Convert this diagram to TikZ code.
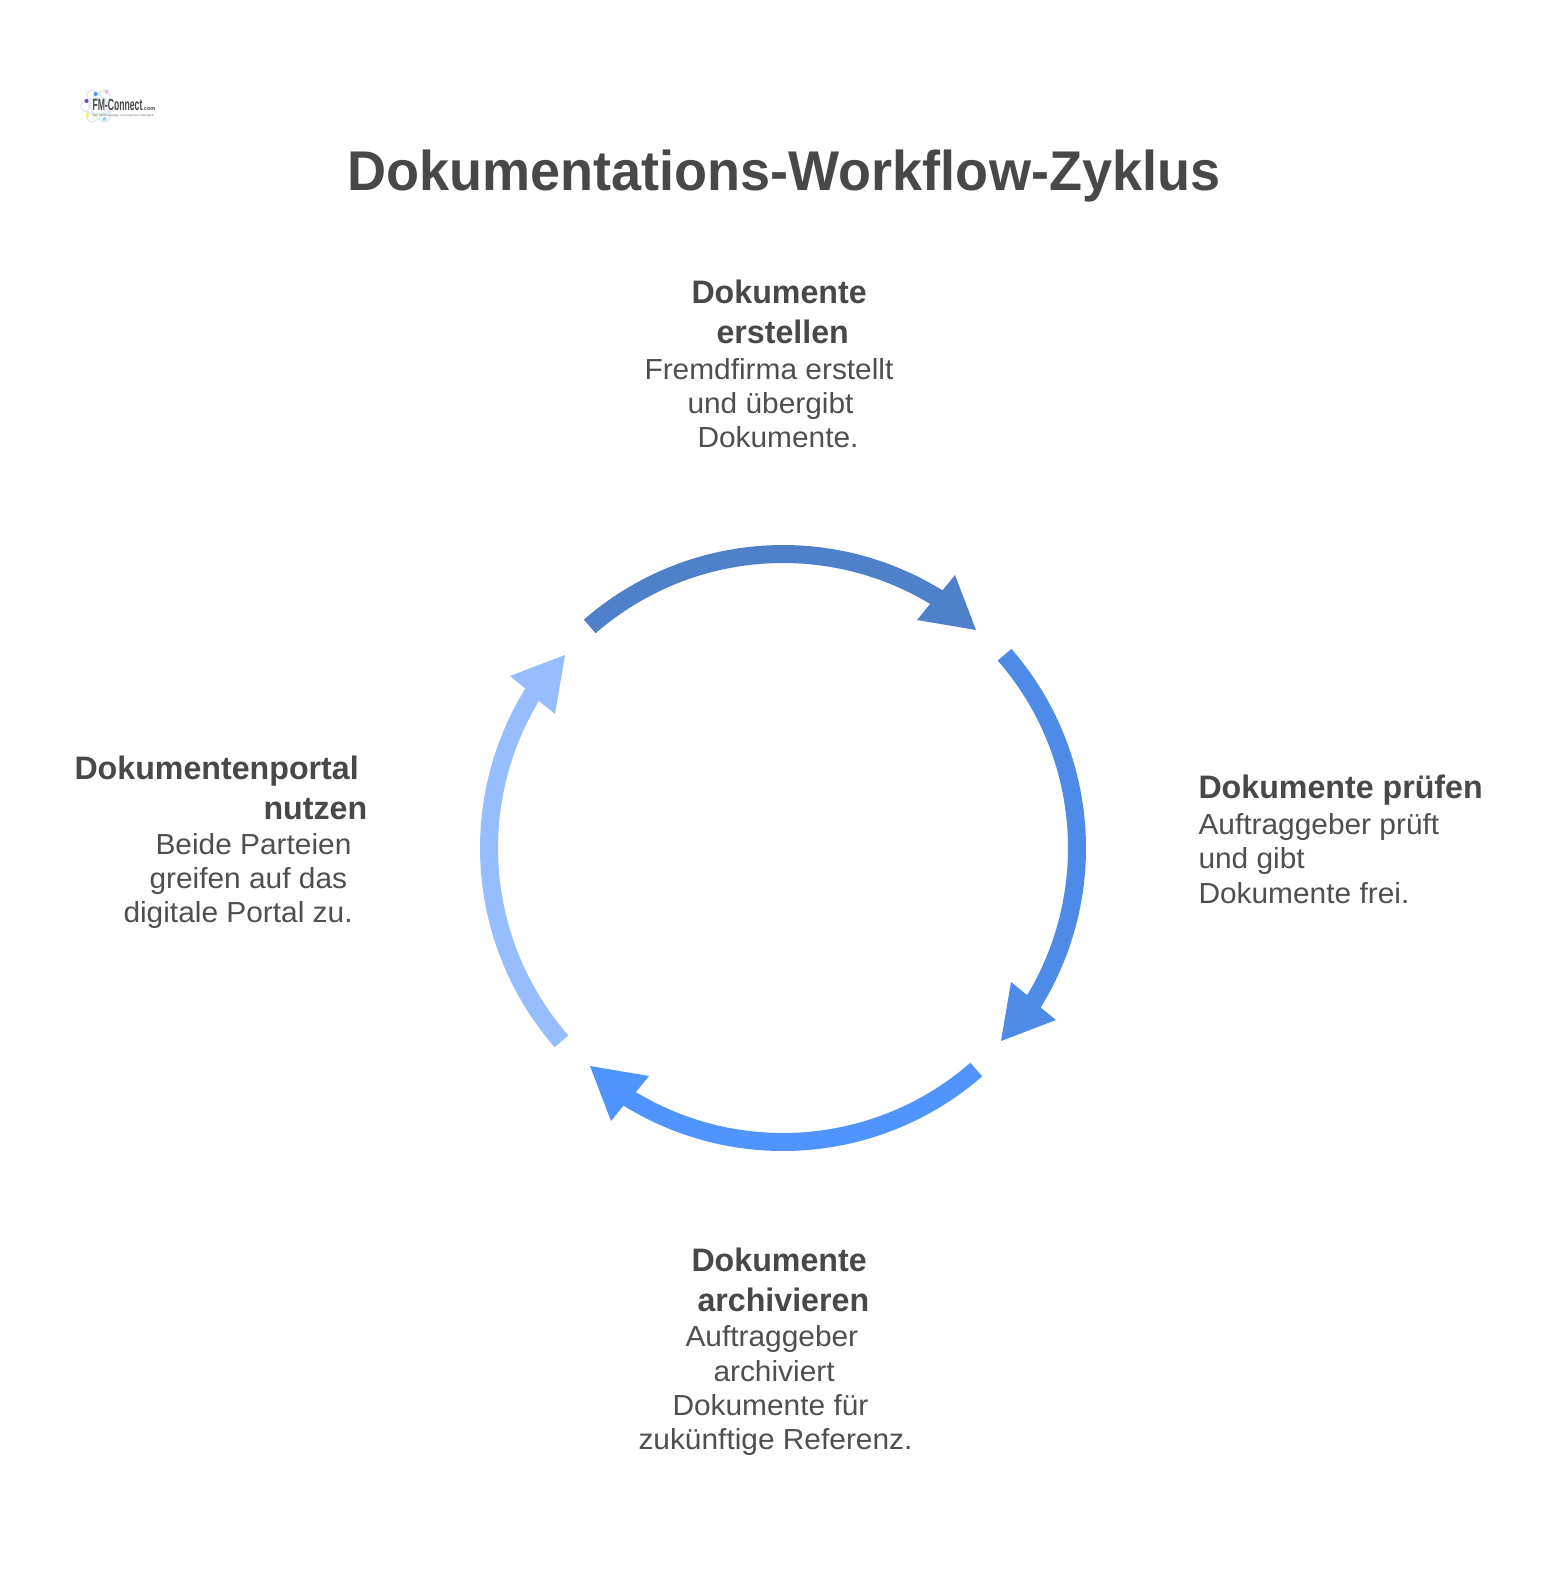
\documentclass[tikz,border=0pt]{standalone}
\usepackage{fontspec}
\setmainfont{Liberation Sans}
\newfontfamily\titlefam[FakeStretch=0.965]{Liberation Sans}
\newfontfamily\headfam[FakeStretch=0.99]{Liberation Sans}
\newfontfamily\bodyfam[FakeStretch=1.03]{Liberation Sans}
\definecolor{arrowA}{HTML}{4F81CB}
\definecolor{arrowB}{HTML}{4E8AE8}
\definecolor{arrowC}{HTML}{4F94FF}
\definecolor{arrowD}{HTML}{96BDFF}
\definecolor{ink}{HTML}{484848}
\definecolor{inkb}{HTML}{4F4F4F}
\definecolor{orbit}{HTML}{DCE6F2}
\tikzset{
  every node/.style={inner sep=0pt,outer sep=0pt},
  titletxt/.style={anchor=base west,text=ink,font=\titlefam\fontsize{56}{60}\selectfont\bfseries},
  headtxt/.style={anchor=base west,text=ink,font=\headfam\fontsize{32.5}{38}\selectfont\bfseries},
  bodytxt/.style={anchor=base west,text=inkb,font=\bodyfam\fontsize{29}{34}\selectfont},
  flow/.style={line width=18pt,line cap=butt},
  logodot/.style={circle,minimum size=4pt,opacity=.75},
}
\begin{document}
\begin{tikzpicture}[x=1pt,y=1pt]
\useasboundingbox (0,0) rectangle (1558,-1593);
\fill[white] (0,0) rectangle (1558,-1593);
\begin{scope}[xshift=-1.5pt]
% logo
\begin{scope}[shift={(100,-106)}]
  \foreach \a in {0,60,120}
    \draw[orbit,line width=1.2pt,rotate=\a] (0,0) ellipse [x radius=18,y radius=8];
\end{scope}
\node[logodot,fill=violet!70!blue] (ld1) at (88,-101) {};
\node[logodot,fill=blue!55!cyan] (ld2) at (97,-94) {};
\node[logodot,fill=red!35] (ld3) at (108,-92) {};
\node[logodot,fill=yellow!70] (ld4) at (89,-115) {};
\node[logodot,fill=cyan!60] (ld5) at (106,-119) {};
\node[anchor=base west,text=ink,font=\fontsize{9}{10}\selectfont\bfseries] (lg1) at (94,-110) {\scalebox{.96}[1.8]{FM-Connect}\fontsize{5.5}{7}\selectfont.com};
\node[anchor=base west,text=ink!80,font=\fontsize{3.1}{3}\selectfont] (lg2) at (94,-116) {Das FM-Beratungs- und Ingenieur-Netzwerk};
% title
\node[titletxt] (title) at (349,-190.5) {Dokumentations-Workflow-Zyklus};
% top block
\node[headtxt] (t1) at (693,-303.5) {Dokumente};
\node[headtxt] (t2) at (718,-343) {erstellen};
\node[bodytxt] (t3) at (646,-379.5) {Fremdfirma erstellt};
\node[bodytxt] (t4) at (689,-413.5) {und übergibt};
\node[bodytxt] (t5) at (699,-447.5) {Dokumente.};
% right block
\node[headtxt] (r1) at (1200,-798.5) {Dokumente prüfen};
\node[bodytxt] (r2) at (1200,-834.5) {Auftraggeber prüft};
\node[bodytxt] (r3) at (1200,-868.5) {und gibt};
\node[bodytxt] (r4) at (1200,-903) {Dokumente frei.};
% bottom block
\node[headtxt] (b1) at (693,-1271) {Dokumente};
\node[headtxt] (b2) at (699,-1311) {archivieren};
\node[bodytxt] (b3) at (687,-1346.5) {Auftraggeber};
\node[bodytxt] (b4) at (715,-1381) {archiviert};
\node[bodytxt] (b5) at (674,-1415) {Dokumente für};
\node[bodytxt] (b6) at (640,-1449) {zukünftige Referenz.};
% left block
\node[headtxt] (l1) at (76,-779) {Dokumentenportal};
\node[headtxt] (l2) at (265,-819) {nutzen};
\node[bodytxt] (l3) at (157,-854) {Beide Parteien};
\node[bodytxt] (l4) at (151,-888.5) {greifen auf das};
\node[bodytxt] (l5) at (125,-922) {digitale Portal zu.};
% arrows
\foreach \r/\c/\n in {0/arrowA/a,-90/arrowB/b,-180/arrowC/c,-270/arrowD/d}{
  \begin{scope}[shift={(784.5,-848)},rotate=\r]
    \coordinate (\n s) at (131.1:294);
    \coordinate (\n tip) at (193,218);
    \coordinate (\n k1) at (172,273);
    \coordinate (\n n1) at (159,257);
    \coordinate (\n n2) at (147,244);
    \coordinate (\n k2) at (134,228);
    \draw[flow,draw=\c] (\n s) arc[start angle=131.1,end angle=57,radius=294];
    \fill[\c] (\n tip) -- (\n k1) -- (\n n1) -- (\n n2) -- (\n k2) -- cycle;
  \end{scope}
}
\end{scope}
\end{tikzpicture}
\end{document}
